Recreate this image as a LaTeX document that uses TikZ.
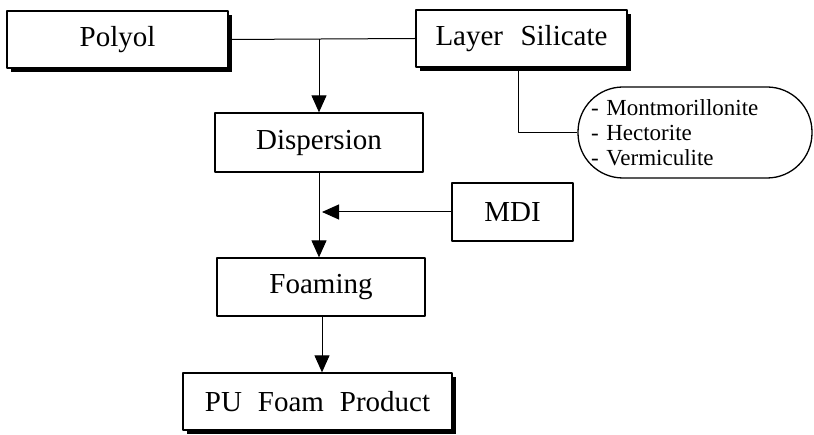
\documentclass[tikz,border=0pt]{standalone}
\usepackage{fontspec}
\setmainfont{Liberation Serif}
\usetikzlibrary{arrows.meta,shadows}

\begin{document}
\begin{tikzpicture}[x=1pt,y=-1pt,>={Triangle[width=15pt,length=17pt]},line join=round,
		font=\fontsize{29}{34}\selectfont,
		box/.style={draw,line width=1.3pt,fill=white,inner sep=0pt,minimum height=57pt},
		shadowbox/.style={box,drop shadow={shadow xshift=4pt,shadow yshift=-4pt,fill=black,opacity=1}},
		link/.style={line width=1pt}]
	\useasboundingbox (0,0) rectangle (814,435);
	% raw materials
	\node[shadowbox,minimum width=221pt] (polyol) at (117.5,39.5) {Polyol};
	\node[shadowbox,minimum width=211pt] (silicate) at (521.5,38.5) {Layer\hspace{0.6em}Silicate};
	\node[box,rounded corners=45pt,minimum width=234pt,minimum height=91pt,
		text width=208pt,inner xsep=13pt,align=left,
		font=\fontsize{23}{25}\selectfont] (clays) at (695,132.5)
		{- Montmorillonite\\- Hectorite\\- Vermiculite};
	% process steps
	\node[box,minimum width=208pt,minimum height=59pt] (dispersion) at (319,142.5) {Dispersion};
	\node[box,minimum width=121pt,minimum height=58pt] (mdi) at (512.5,212) {MDI};
	\node[box,minimum width=208pt,minimum height=58pt] (foaming) at (321,287) {Foaming};
	\node[shadowbox,minimum width=269pt] (product) at (317.5,401.5) {PU\hspace{0.55em}Foam\hspace{0.55em}Product};
	% connectors
	\draw[link] (polyol.east) -- (silicate.west);
	\draw[link,->] (polyol.east -| dispersion.north) -- (dispersion.north);
	\draw[link] (silicate.south -| 518,0) |- (clays.west);
	\draw[link,->] (dispersion.south) -- (foaming.north -| dispersion.south);
	\draw[link,->] (mdi.west) -- ([xshift=3pt]dispersion.south |- mdi.west);
	\draw[link,->] (foaming.south -| 322,0) -- (product.north -| 322,0);
\end{tikzpicture}
\end{document}
